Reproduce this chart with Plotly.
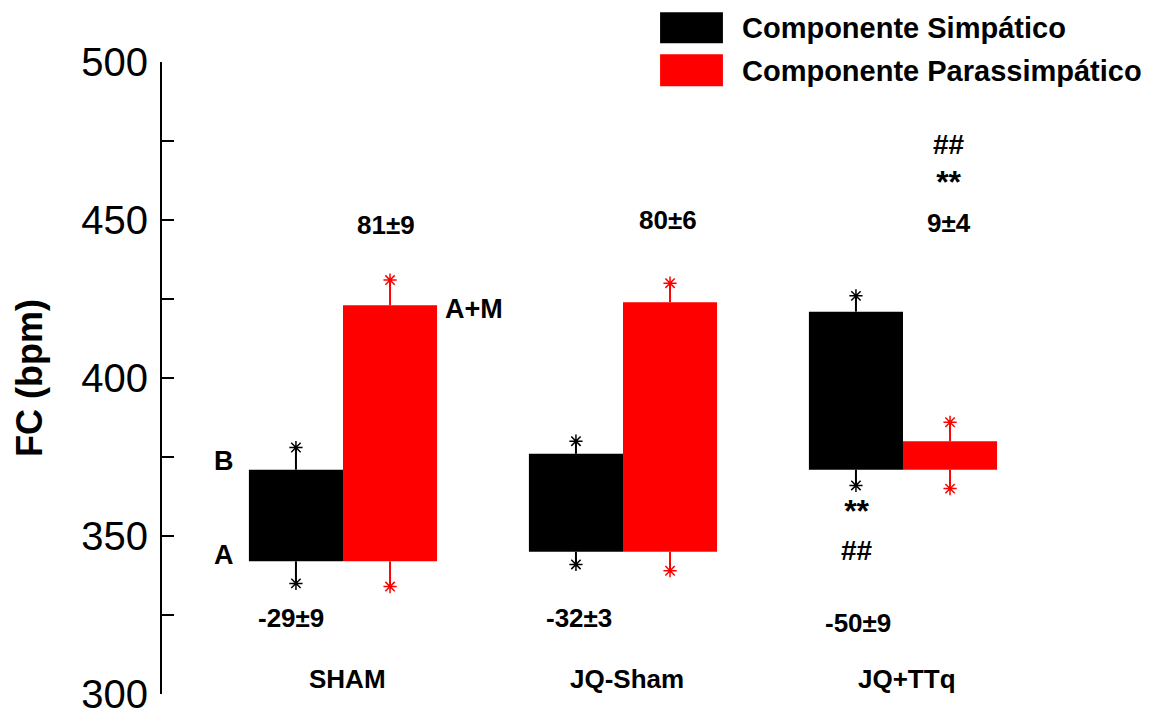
import plotly.graph_objects as go

# ---------------- data ----------------
categories = ["SHAM", "JQ-Sham", "JQ+TTq"]
series_names = ["Componente Simpático", "Componente Parassimpático"]

simp_base = [342, 345, 371]
simp_top = [371, 376, 421]
simp_err = [7, 4, 5]

para_base = [342, 345, 371]
para_top = [423, 424, 380]
para_err = [8, 6, 6]

simp_labels = ["-29±9", "-32±3", "-50±9"]
para_labels = ["81±9", "80±6", "9±4"]

yticks = [300, 350, 400, 450, 500]
yminor = [325, 375, 425, 475]

# ---------------- style ----------------
FONT = "Liberation Sans, Arial, sans-serif"
BLACK = "#000000"
RED = "#FF0000"
OFF = 0.168
BW = 0.336

fig = go.Figure()

def add_series(base, top, err, color, offset, name):
    xs = [i + offset for i in range(len(categories))]
    fig.add_trace(go.Bar(
        x=xs, base=base, y=[t - b for t, b in zip(top, base)],
        width=BW, marker=dict(color=color, line=dict(width=0)),
        name=name, showlegend=False))
    # upper error bars (from the top of the bar)
    fig.add_trace(go.Scatter(
        x=xs, y=top, mode="markers", marker=dict(size=1, opacity=0),
        error_y=dict(type="data", array=err, arrayminus=[0] * len(err),
                     color=color, thickness=2, width=0),
        showlegend=False, hoverinfo="skip"))
    # lower error bars (from the base of the bar)
    fig.add_trace(go.Scatter(
        x=xs, y=base, mode="markers", marker=dict(size=1, opacity=0),
        error_y=dict(type="data", array=[0] * len(err), arrayminus=err,
                     color=color, thickness=2, width=0),
        showlegend=False, hoverinfo="skip"))
    # asterisk end caps
    fig.add_trace(go.Scatter(
        x=xs + xs,
        y=[t + e for t, e in zip(top, err)] + [b - e for b, e in zip(base, err)],
        mode="markers",
        marker=dict(symbol="asterisk-open", size=11, color=color,
                    line=dict(color=color, width=1.5)),
        showlegend=False, hoverinfo="skip"))

add_series(simp_base, simp_top, simp_err, BLACK, -OFF, series_names[0])
add_series(para_base, para_top, para_err, RED, OFF, series_names[1])

# ---------------- annotations ----------------
ann = []
def txt(x, y, t, size=26, **kw):
    ann.append(dict(x=x, y=y, xref="x", yref="y", text=t,
                    showarrow=False, font=dict(family=FONT, size=size, color="black"),
                    **kw))

def b(t, size=None):
    if size is None:
        return "<b>%s</b>" % t
    return '<span style="font-size:%dpx"><b>%s</b></span>' % (size, t)

# category names
for i, c in enumerate(categories):
    txt(i + 0.015, 304.8, b(c))
# change labels
txt(-0.186, 324.1, b(simp_labels[0]))
txt(0.843, 324.1, b(simp_labels[1]))
txt(1.839, 322.5, b(simp_labels[2]))
txt(0.154, 448.4, b(para_labels[0]))
txt(1.161, 450.0, b(para_labels[1]))
# significance block above JQ+TTq parasympathetic value
txt(2.163, 461.5, "<br>".join([b("##", 28), b("**", 32), b(para_labels[2], 26)]), size=30)
# significance block below JQ+TTq sympathetic bar
txt(1.836, 352.2, "<br>".join([b("**", 32), b("##", 28)]), size=29)
# letters
txt(0.468, 421.8, b("A+M"), size=27)
txt(-0.425, 373.8, b("B"), size=27)
txt(-0.425, 344.0, b("A"), size=27)

# ---------------- manual legend ----------------
shapes = []
leg = [(BLACK, 1.0296, 1.0786, 1.0535), (RED, 0.9616, 1.0122, 0.9855)]
for (col, y0, y1, yc), name in zip(leg, series_names):
    shapes.append(dict(type="rect", xref="paper", yref="paper",
                       x0=0.531, x1=0.598, y0=y0, y1=y1,
                       fillcolor=col, line=dict(width=0)))
    ann.append(dict(x=0.616, y=yc, xref="paper", yref="paper",
                    text="<b>%s</b>" % name, showarrow=False,
                    xanchor="left", yanchor="middle",
                    font=dict(family=FONT, size=29, color="black")))

alltick = sorted(yticks + yminor)
fig.update_layout(
    width=1153, height=711,
    margin=dict(l=162, r=53, t=62, b=17),
    plot_bgcolor="white", paper_bgcolor="white",
    showlegend=False, barmode="overlay",
    annotations=ann, shapes=shapes,
    font=dict(family=FONT, color="black"),
    xaxis=dict(range=[-0.6464, 2.7036], visible=False, fixedrange=True),
    yaxis=dict(
        range=[300, 500], tickmode="array", tickvals=alltick,
        ticktext=[str(v) if v in yticks else "" for v in alltick],
        showline=True, linecolor="black", linewidth=2,
        ticks="inside", ticklen=12, tickwidth=2, tickcolor="black",
        showgrid=False, zeroline=False, automargin=False,
        tickfont=dict(family=FONT, size=40, color="black"),
        ticklabelstandoff=4, ticklabeloverflow="allow",
        title=dict(text="<b>FC (bpm)</b>", font=dict(family=FONT, size=36, color="black"), standoff=28),
    ),
)

fig.write_html("out.html")
